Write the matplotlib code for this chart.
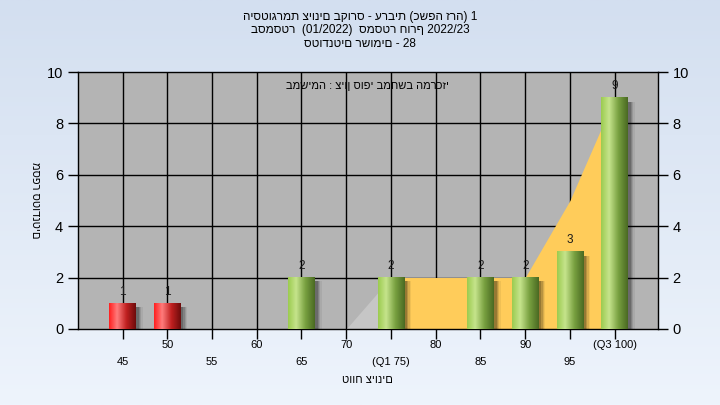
import numpy as np
import matplotlib
matplotlib.use("Agg")
import matplotlib.pyplot as plt
from matplotlib.colors import LinearSegmentedColormap
from matplotlib.patches import Rectangle

# נתונים
grades = [45, 50, 55, 60, 65, 70, 75, 80, 85, 90, 95, 100]
grade_labels = ['45', '50', '55', '60', '65', '70', '(Q1 75)', '80', '85', '90', '95', '(Q3 100)']
counts = [1, 1, 0, 0, 2, 0, 2, 0, 2, 2, 3, 9]
fail_flags = [True, True, False, False, False, False, False, False, False, False, False, False]
area_values = [0, 0, 0, 0, 0, 0, 2, 2, 2, 2, 5, 9]
q1_index = 6

title_lines = ["היסטוגרמת ציונים בקורס - ערבית (כשפה זרה) 1",
               "בסמסטר  (01/2022)  סמסטר חורף 2022/23",
               "סטודנטים רשומים - 28"]
note_text = "במשימה : ציון סופי במחשב המרכזי"
x_title = "טווח ציונים"
y_title = "מספר סטודנטים"

plt.rcParams['font.family'] = ['Liberation Sans', 'DejaVu Sans']

fig = plt.figure(figsize=(7.2, 4.05), dpi=100)

# רקע מדורג
bg = fig.add_axes([0, 0, 1, 1], zorder=-10)
bg_cmap = LinearSegmentedColormap.from_list("bg", ["#eef4fc", "#d3dff0"])
bg.imshow(np.linspace(0, 1, 256).reshape(-1, 1), aspect='auto', cmap=bg_cmap,
          origin='lower', extent=[0, 1, 0, 1])
bg.axis('off')

ax = fig.add_axes([0.108, 0.188, 0.806, 0.634])
ax.set_facecolor('#b4b4b4')
x = np.arange(len(grades))

# רשת
for xi in x:
    ax.axvline(xi, color='black', lw=1, zorder=1)
for yv in [2, 4, 6, 8]:
    ax.axhline(yv, color='black', lw=1, zorder=1)

# שטח רבעונים
ax.fill_between(x[:q1_index + 1], area_values[:q1_index + 1], 0, color='#c6c6c6', lw=0, zorder=2)
ax.fill_between(x[q1_index:], area_values[q1_index:], 0, color='#ffcc5a', lw=0, zorder=2)

green_cmap = LinearSegmentedColormap.from_list(
    "g", [(0, "#9ccc50"), (0.3, "#c6e48c"), (0.65, "#78a040"), (1, "#4a6a22")])
red_cmap = LinearSegmentedColormap.from_list(
    "r", [(0, "#ff2020"), (0.3, "#ff7c7c"), (0.65, "#c02020"), (1, "#6e0c0c")])
grad = np.linspace(0, 1, 64).reshape(1, -1)

bw = 0.6
for xi, c, fail in zip(x, counts, fail_flags):
    if c == 0:
        continue
    # צל
    for k, a in enumerate([0.18, 0.14, 0.10, 0.06]):
        ax.add_patch(Rectangle((xi - bw / 2 + 0.06 + k * 0.03, -0.1), bw, c - 0.05,
                               color='black', alpha=a, lw=0, zorder=3))
    ax.imshow(grad, aspect='auto', cmap=red_cmap if fail else green_cmap,
              extent=[xi - bw / 2, xi + bw / 2, 0, c], zorder=4, interpolation='bilinear')
    ax.text(xi, c + 0.22, str(c), ha='center', va='bottom', fontsize=8.5,
            color='#1a1a1a', zorder=5)

ax.set_xlim(-1, len(grades) - 0.03)
ax.set_ylim(0, 10)

# צירים
ax.set_xticks(x)
ax.set_xticklabels([])
ax.tick_params(axis='x', length=7, width=1, color='black')
ax.set_yticks(range(0, 11, 2))
ax.tick_params(axis='y', length=7, width=1, labelsize=10.5, color='black',
               left=True, right=True, labelleft=True, labelright=True)
for sp in ax.spines.values():
    sp.set_color('black')
    sp.set_linewidth(1)

for i, (xi, lab) in enumerate(zip(x, grade_labels)):
    ypos = -0.062 if i % 2 == 1 else -0.128
    ax.text(xi, ypos, lab, transform=ax.get_xaxis_transform(),
            ha='center', va='center', fontsize=8)

ax.text(0.5, -0.2, x_title, transform=ax.transAxes, ha='center', va='center', fontsize=8)
fig.text(0.048, 0.505, y_title, rotation=270, ha='center', va='center', fontsize=8)

ax.text(0.5, 0.945, note_text, transform=ax.transAxes, ha='center', va='center',
        fontsize=8, zorder=6)

for i, line in enumerate(title_lines):
    fig.text(0.5, 1 - (17 + 13.5 * i) / 405, line, ha='center', va='center', fontsize=8.5)

fig.savefig("out.png", dpi=100)
